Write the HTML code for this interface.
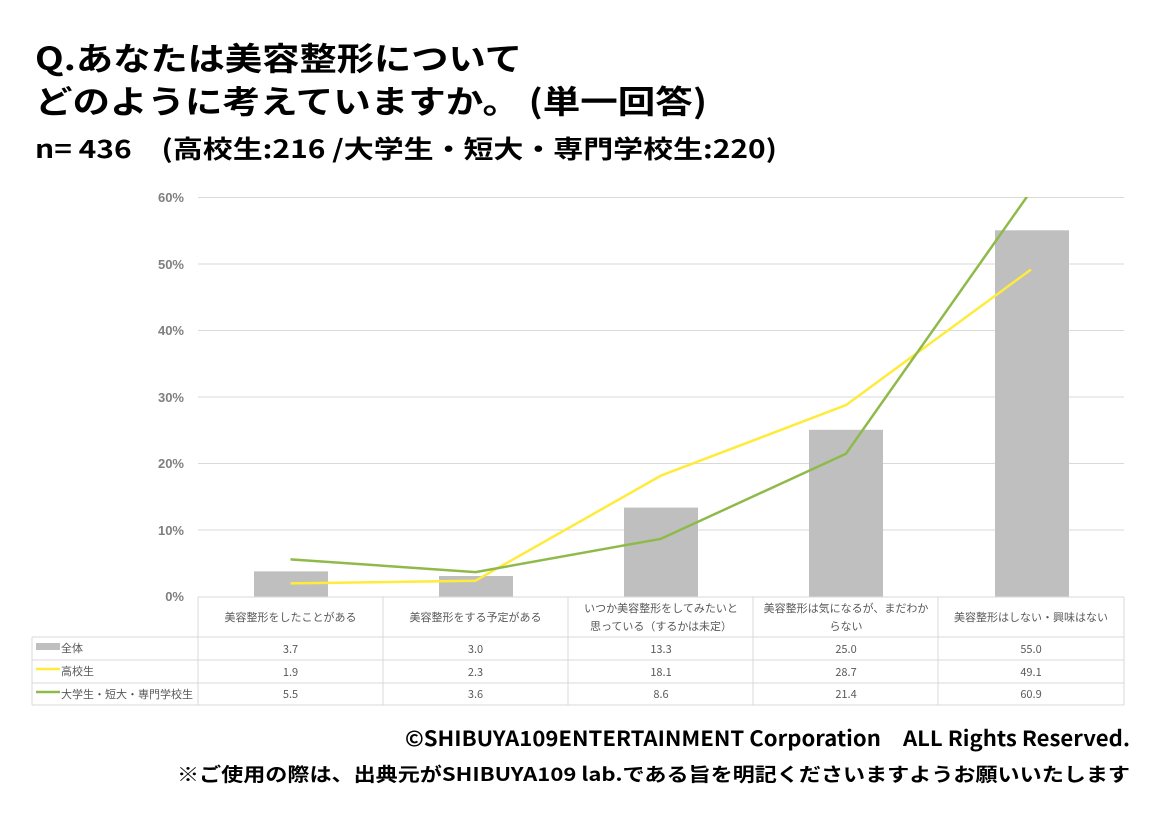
<!DOCTYPE html>
<html><head><meta charset="utf-8"><style>
body{margin:0;background:#fff;}
svg{display:block;font-family:"Liberation Sans","Noto Sans CJK JP",sans-serif;}
.t{font-family:"Noto Sans CJK JP",sans-serif;font-weight:bold;fill:#000;}
.ax{font-size:13px;font-weight:bold;fill:#7f7f7f;text-anchor:end;}
.tb{font-family:"Noto Sans CJK JP",sans-serif;font-size:11px;fill:#595959;text-anchor:middle;}
.tl{font-family:"Noto Sans CJK JP",sans-serif;font-size:11px;fill:#595959;}
</style></head><body>
<svg width="1160" height="830" viewBox="0 0 1160 830">
<rect width="1160" height="830" fill="#fff"/>
<text class="t" x="35" y="70" font-size="32" textLength="487" lengthAdjust="spacingAndGlyphs">Q.あなたは美容整形について</text>
<text class="t" x="35" y="113" font-size="32" textLength="672" lengthAdjust="spacingAndGlyphs">どのように考えていますか。 (単一回答)</text>
<text class="t" x="35" y="158" font-size="25" textLength="742" lengthAdjust="spacingAndGlyphs">n= 436　(高校生:216 /大学生・短大・専門学校生:220)</text>
<g stroke="#d9d9d9" stroke-width="1">
<line x1="198" y1="197.5" x2="1124" y2="197.5"/>
<line x1="198" y1="264" x2="1124" y2="264"/>
<line x1="198" y1="330.5" x2="1124" y2="330.5"/>
<line x1="198" y1="397" x2="1124" y2="397"/>
<line x1="198" y1="463.5" x2="1124" y2="463.5"/>
<line x1="198" y1="530" x2="1124" y2="530"/>
</g>
<g class="ax">
<text x="184" y="202">60%</text><text x="184" y="269">50%</text><text x="184" y="335">40%</text>
<text x="184" y="402">30%</text><text x="184" y="468">20%</text><text x="184" y="535">10%</text><text x="184" y="601">0%</text>
</g>
<g fill="#bfbfbf">
<rect x="254" y="571.4" width="74" height="25.6"/>
<rect x="439" y="576" width="74" height="21"/>
<rect x="624" y="507.6" width="74" height="89.4"/>
<rect x="809" y="429.8" width="74" height="167.2"/>
<rect x="995" y="230.3" width="74" height="366.7"/>
</g>
<clipPath id="c"><rect x="198" y="197" width="926" height="400"/></clipPath>
<g clip-path="url(#c)" fill="none" stroke-width="2.5" stroke-linejoin="round">
<polyline stroke="#ffeb3b" points="290.5,583.4 475.5,580.7 661,475.6 846,405.1 1031,269.5"/>
<polyline stroke="#8fba4a" points="290.5,559.4 475.5,572.1 661,538.8 846,453.7 1031,191"/>
</g>
<g stroke="#d9d9d9" stroke-width="1" fill="none">
<line x1="198" y1="597" x2="1124" y2="597"/>
<line x1="32" y1="637" x2="1124" y2="637"/>
<line x1="32" y1="660" x2="1124" y2="660"/>
<line x1="32" y1="683" x2="1124" y2="683"/>
<line x1="32" y1="705" x2="1124" y2="705"/>
<line x1="32" y1="637" x2="32" y2="705"/>
<line x1="198" y1="597" x2="198" y2="705"/>
<line x1="383" y1="597" x2="383" y2="705"/>
<line x1="568" y1="597" x2="568" y2="705"/>
<line x1="753" y1="597" x2="753" y2="705"/>
<line x1="938" y1="597" x2="938" y2="705"/>
<line x1="1124" y1="597" x2="1124" y2="705"/>
</g>
<g class="tb">
<text x="290.5" y="621">美容整形をしたことがある</text>
<text x="475.5" y="621">美容整形をする予定がある</text>
<text x="661" y="612">いつか美容整形をしてみたいと</text>
<text x="661" y="630">思っている（するかは未定）</text>
<text x="846" y="612">美容整形は気になるが、まだわか</text>
<text x="846" y="630">らない</text>
<text x="1031" y="621">美容整形はしない・興味はない</text>
<text x="290.5" y="653">3.7</text><text x="475.5" y="653">3.0</text><text x="661" y="653">13.3</text><text x="846" y="653">25.0</text><text x="1031" y="653">55.0</text>
<text x="290.5" y="676">1.9</text><text x="475.5" y="676">2.3</text><text x="661" y="676">18.1</text><text x="846" y="676">28.7</text><text x="1031" y="676">49.1</text>
<text x="290.5" y="698">5.5</text><text x="475.5" y="698">3.6</text><text x="661" y="698">8.6</text><text x="846" y="698">21.4</text><text x="1031" y="698">60.9</text>
</g>
<rect x="36" y="643" width="24" height="7" fill="#bfbfbf"/>
<line x1="36" y1="669" x2="60" y2="669" stroke="#ffeb3b" stroke-width="2.5"/>
<line x1="36" y1="692" x2="60" y2="692" stroke="#8fba4a" stroke-width="2.5"/>
<text class="tl" x="61" y="652">全体</text>
<text class="tl" x="61" y="675">高校生</text>
<text class="tl" x="61" y="698">大学生・短大・専門学校生</text>
<text class="t" x="1130" y="746" font-size="21" text-anchor="end" textLength="725" lengthAdjust="spacingAndGlyphs">©SHIBUYA109ENTERTAINMENT Corporation　ALL Rights Reserved.</text>
<text class="t" x="1130" y="781" font-size="19" text-anchor="end" textLength="953" lengthAdjust="spacingAndGlyphs">※ご使用の際は、出典元がSHIBUYA109 lab.である旨を明記くださいますようお願いいたします</text>
</svg>
</body></html>
